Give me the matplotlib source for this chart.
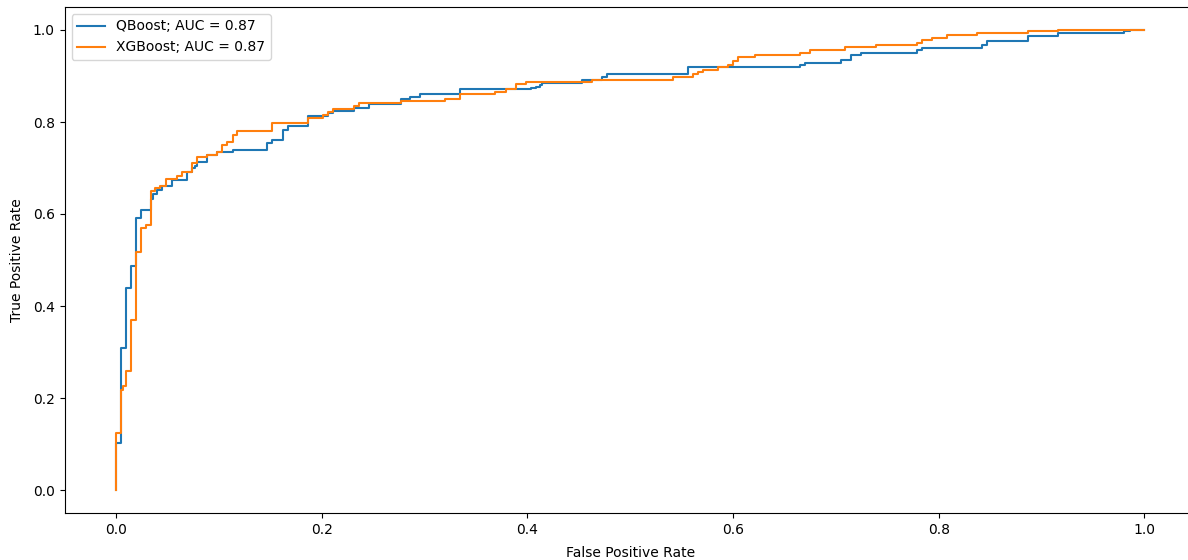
import matplotlib
matplotlib.use('Agg')
import matplotlib.pyplot as plt

# ROC curve vertices (fpr, tpr)
qboost_fpr = [0, 0, 0.0046, 0.0046, 0.0094, 0.0094, 0.0143, 0.0143, 0.0192, 0.0192,
              0.024, 0.024, 0.0337, 0.0337, 0.0356, 0.0356, 0.040, 0.040, 0.0447, 0.0447,
              0.0545, 0.0545, 0.0694, 0.0694, 0.0737, 0.0737, 0.0765, 0.0765, 0.079, 0.079,
              0.0888, 0.0888, 0.0978, 0.0978, 0.1135, 0.1135, 0.147, 0.147, 0.152, 0.152,
              0.162, 0.162, 0.1676, 0.1676, 0.187, 0.187, 0.2065, 0.2065, 0.2114, 0.2114,
              0.231, 0.231, 0.246, 0.246, 0.277, 0.277, 0.2859, 0.2859, 0.2956, 0.2956,
              0.3345, 0.3345, 0.404, 0.404, 0.408, 0.408, 0.412, 0.412, 0.414, 0.414,
              0.4529, 0.4529, 0.4723, 0.4723, 0.477, 0.477, 0.5566, 0.5566, 0.665, 0.665,
              0.6697, 0.6697, 0.7047, 0.7047, 0.7144, 0.7144, 0.724, 0.724, 0.7787, 0.7787,
              0.7834, 0.7834, 0.842, 0.842, 0.8473, 0.8473, 0.8872, 0.8872, 0.9164, 0.9164,
              0.980, 0.980, 0.986, 0.986, 1.0]
qboost_tpr = [0, 0.1015, 0.1015, 0.308, 0.308, 0.4385, 0.4385, 0.4877, 0.4877, 0.592,
              0.592, 0.6087, 0.6087, 0.6326, 0.6326, 0.643, 0.643, 0.652, 0.652, 0.661,
              0.661, 0.674, 0.674, 0.692, 0.692, 0.699, 0.699, 0.705, 0.705, 0.714,
              0.714, 0.728, 0.728, 0.734, 0.734, 0.739, 0.739, 0.755, 0.755, 0.761,
              0.761, 0.783, 0.783, 0.791, 0.791, 0.813, 0.813, 0.819, 0.819, 0.824,
              0.824, 0.830, 0.830, 0.840, 0.840, 0.849, 0.849, 0.855, 0.855, 0.861,
              0.861, 0.871, 0.871, 0.874, 0.874, 0.877, 0.877, 0.881, 0.881, 0.884,
              0.884, 0.891, 0.891, 0.897, 0.897, 0.904, 0.904, 0.919, 0.919, 0.925,
              0.925, 0.929, 0.929, 0.935, 0.935, 0.946, 0.946, 0.951, 0.951, 0.956,
              0.956, 0.960, 0.960, 0.967, 0.967, 0.976, 0.976, 0.987, 0.987, 0.993,
              0.993, 0.997, 0.997, 1.0, 1.0]

xgboost_fpr = [0, 0, 0.0046, 0.0046, 0.0070, 0.0070, 0.0094, 0.0094, 0.0143, 0.0143,
               0.0192, 0.0192, 0.024, 0.024, 0.0289, 0.0289, 0.0337, 0.0337, 0.0379, 0.0379,
               0.0428, 0.0428, 0.0483, 0.0483, 0.059, 0.059, 0.0638, 0.0638, 0.074, 0.074,
               0.0784, 0.0784, 0.0881, 0.0881, 0.0978, 0.0978, 0.103, 0.103, 0.1076, 0.1076,
               0.1135, 0.1135, 0.118, 0.118, 0.152, 0.152, 0.187, 0.187, 0.2016, 0.2016,
               0.2065, 0.2065, 0.2114, 0.2114, 0.231, 0.231, 0.2367, 0.2367, 0.277, 0.277,
               0.32, 0.32, 0.3345, 0.3345, 0.3686, 0.3686, 0.379, 0.379, 0.389, 0.389,
               0.3987, 0.3987, 0.4626, 0.4626, 0.542, 0.542, 0.5615, 0.5615, 0.566, 0.566,
               0.571, 0.571, 0.5857, 0.5857, 0.595, 0.595, 0.600, 0.600, 0.605, 0.605,
               0.6214, 0.6214, 0.665, 0.665, 0.675, 0.675, 0.709, 0.709, 0.739, 0.739,
               0.7787, 0.7787, 0.7834, 0.7834, 0.7931, 0.7931, 0.8077, 0.8077, 0.8376, 0.8376,
               0.8872, 0.8872, 0.9164, 0.9164, 1.0]
xgboost_tpr = [0, 0.1245, 0.1245, 0.217, 0.217, 0.226, 0.226, 0.259, 0.259, 0.3696,
               0.3696, 0.5167, 0.5167, 0.570, 0.570, 0.5754, 0.5754, 0.6507, 0.6507, 0.6558,
               0.6558, 0.661, 0.661, 0.676, 0.676, 0.6826, 0.6826, 0.692, 0.692, 0.710,
               0.710, 0.723, 0.723, 0.728, 0.728, 0.734, 0.734, 0.751, 0.751, 0.757,
               0.757, 0.772, 0.772, 0.781, 0.781, 0.797, 0.797, 0.808, 0.808, 0.815,
               0.815, 0.822, 0.822, 0.8275, 0.8275, 0.835, 0.835, 0.841, 0.841, 0.845,
               0.845, 0.849, 0.849, 0.861, 0.861, 0.866, 0.866, 0.871, 0.871, 0.882,
               0.882, 0.887, 0.887, 0.891, 0.891, 0.897, 0.897, 0.904, 0.904, 0.909,
               0.909, 0.913, 0.913, 0.919, 0.919, 0.924, 0.924, 0.933, 0.933, 0.941,
               0.941, 0.946, 0.946, 0.951, 0.951, 0.956, 0.956, 0.962, 0.962, 0.967,
               0.967, 0.972, 0.972, 0.978, 0.978, 0.982, 0.982, 0.989, 0.989, 0.993,
               0.993, 0.997, 0.997, 1.0, 1.0]

labels = ['QBoost; AUC = 0.87', 'XGBoost; AUC = 0.87']

fig = plt.figure(figsize=(11.88, 5.6), dpi=100)
# axes runs past the right edge, as in the reference crop
ax = fig.add_axes([64.6 / 1188, 47 / 560, 1131.2 / 1188, 506 / 560])

ax.plot(qboost_fpr, qboost_tpr, color='tab:blue', label=labels[0])
ax.plot(xgboost_fpr, xgboost_tpr, color='tab:orange', label=labels[1])

ax.set_xlim(-0.05, 1.05)
ax.set_ylim(-0.05, 1.05)
ax.set_xlabel('False Positive Rate', labelpad=6.5)
ax.set_ylabel('True Positive Rate', labelpad=6.5)
ax.spines['right'].set_visible(False)
ax.legend(loc='upper left')

plt.savefig('out.png', dpi=100)
plt.close()
